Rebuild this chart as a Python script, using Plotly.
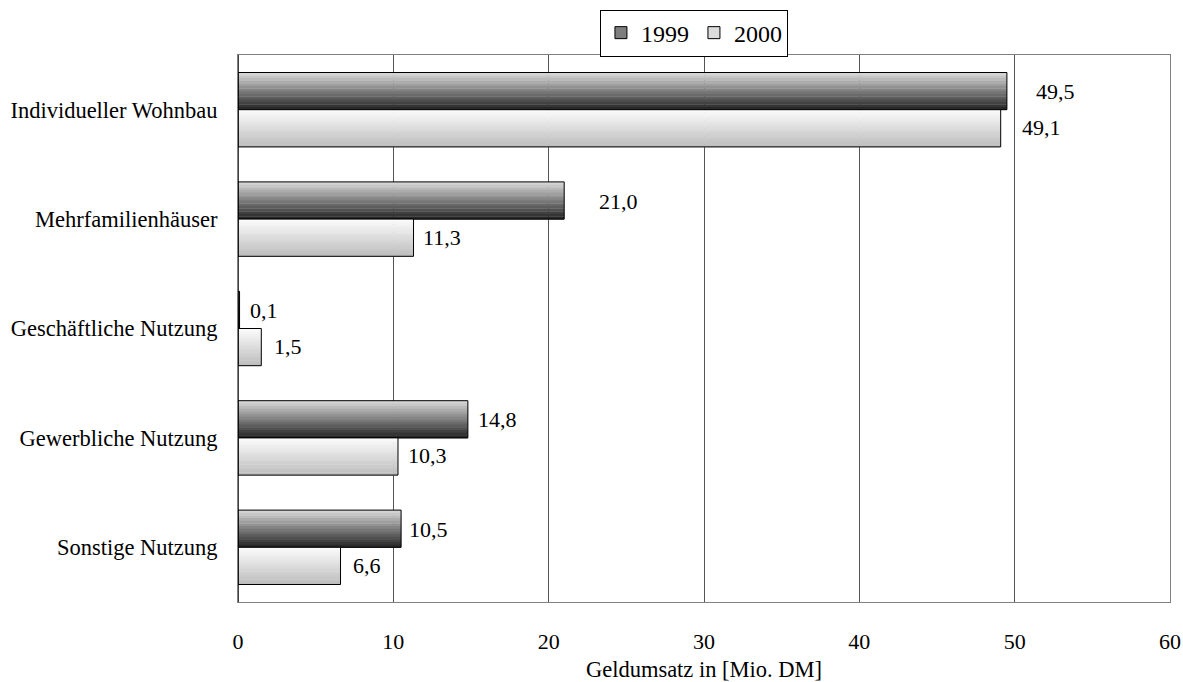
import plotly.graph_objects as go

categories = ["Individueller Wohnbau", "Mehrfamilienhäuser", "Geschäftliche Nutzung",
              "Gewerbliche Nutzung", "Sonstige Nutzung"]
series_names = ["1999", "2000"]
values_1999 = [49.5, 21.0, 0.1, 14.8, 10.5]
values_2000 = [49.1, 11.3, 1.5, 10.3, 6.6]
x_ticks = [0, 10, 20, 30, 40, 50, 60]
x_title = "Geldumsatz in [Mio. DM]"

# styling (not data)
FONT = "Liberation Serif"
BAR_W = 0.34
N_SLICES = 14
grad = {
    "1999": ((212, 212, 212), (40, 40, 40)),   # top colour, bottom colour
    "2000": ((250, 250, 250), (190, 190, 190)),
}
offsets = {"1999": -BAR_W, "2000": 0.0}
label_shift = {"1999": [28, 34, 9, 9, 7], "2000": [20, 8, 12, 9, 11]}
label_yshift = {"1999": 18, "2000": -18}

fig = go.Figure()
series_vals = {"1999": values_1999, "2000": values_2000}

for name in series_names:
    vals = series_vals[name]
    c0, c1 = grad[name]
    sw = BAR_W / N_SLICES
    for i in range(N_SLICES):
        t = i / (N_SLICES - 1)
        col = tuple(round(c0[k] + (c1[k] - c0[k]) * t) for k in range(3))
        fig.add_trace(go.Bar(
            y=categories, x=vals, orientation="h",
            width=sw * 1.15, offset=offsets[name] + i * sw,
            marker=dict(color="rgb(%d,%d,%d)" % col, line=dict(width=0)),
            showlegend=False, hoverinfo="skip",
        ))
    mid = tuple(round((c0[k] + c1[k]) / 2) for k in range(3))
    # outline trace
    fig.add_trace(go.Bar(
        y=categories, x=vals, orientation="h",
        width=BAR_W, offset=offsets[name],
        marker=dict(color="rgba(0,0,0,0)", line=dict(color="black", width=1)),
        showlegend=False, name=name,
    ))
    # legend-only entry
    fig.add_trace(go.Bar(
        y=[None], x=[None], orientation="h", name=name,
        marker=dict(color="rgb(%d,%d,%d)" % mid, line=dict(color="black", width=1)),
        showlegend=True,
    ))
    for j, (cat, v) in enumerate(zip(categories, vals)):
        fig.add_annotation(
            x=v, y=cat, text=("%.1f" % v).replace(".", ","),
            xanchor="left", yanchor="middle", showarrow=False,
            xshift=label_shift[name][j] - 1, yshift=label_yshift[name],
            font=dict(family=FONT, size=22, color="black"),
        )

fig.update_layout(
    width=1183, height=682,
    margin=dict(l=238, r=13, t=55, b=80, autoexpand=False),
    barmode="overlay",
    plot_bgcolor="white", paper_bgcolor="white",
    font=dict(family=FONT, size=22.5, color="black"),
    legend=dict(
        orientation="h", x=0.5866, xref="container", xanchor="center",
        y=0.986, yref="container", yanchor="top",
        bordercolor="black", borderwidth=1, font=dict(family=FONT, size=24),
        itemwidth=30, tracegroupgap=0,
    ),
    showlegend=True,
)
fig.update_xaxes(
    range=[0, 60], tickvals=x_ticks, ticktext=[str(t) for t in x_ticks],
    showgrid=True, gridcolor="#555555", gridwidth=1, automargin=False,
    zeroline=False, showline=True, linecolor="#808080", linewidth=1, mirror=True,
    ticks="", ticklabelstandoff=20, tickfont=dict(size=22),
    title=dict(text=x_title, standoff=10, font=dict(family=FONT, size=22.5)),
)
fig.update_yaxes(
    categoryorder="array", categoryarray=categories, autorange="reversed",
    showgrid=False, zeroline=False, showline=True, linecolor="#808080", mirror=True,
    ticks="", ticklabelstandoff=15, automargin=False,
)
# darker left axis line
fig.add_shape(type="line", xref="x", yref="paper", x0=0, x1=0, y0=0, y1=1,
              line=dict(color="black", width=1.5))

fig.write_html("out.html", config={"displayModeBar": False},
               post_script="document.body.style.margin='0px';document.body.style.overflow='hidden';")
